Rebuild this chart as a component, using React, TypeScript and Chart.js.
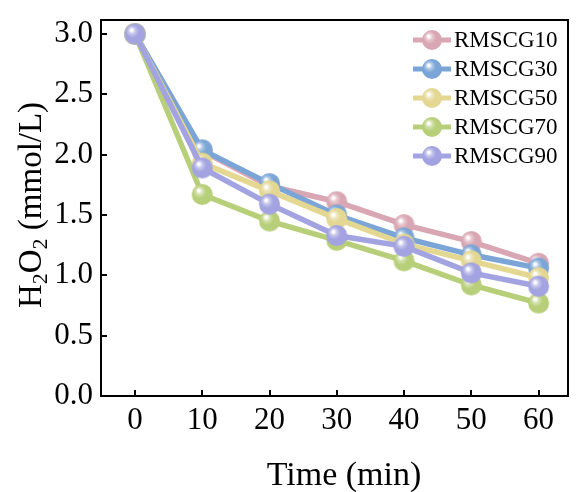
import React, { useEffect, useRef } from 'react';
import { Chart, registerables } from 'chart.js';

Chart.register(...registerables);

const times = [0, 10, 20, 30, 40, 50, 60];
const seriesNames = ['RMSCG10', 'RMSCG30', 'RMSCG50', 'RMSCG70', 'RMSCG90'];
const rmscg10 = [3.0, 2.03, 1.74, 1.61, 1.42, 1.28, 1.1];
const rmscg30 = [3.0, 2.04, 1.76, 1.5, 1.31, 1.17, 1.06];
const rmscg50 = [3.0, 1.93, 1.7, 1.47, 1.26, 1.12, 0.98];
const rmscg70 = [3.0, 1.67, 1.45, 1.29, 1.12, 0.92, 0.77];
const rmscg90 = [3.0, 1.89, 1.59, 1.33, 1.24, 1.02, 0.91];
const seriesValues = [rmscg10, rmscg30, rmscg50, rmscg70, rmscg90];
const seriesColors = ['#D9A7B3', '#7BA5D6', '#E3D791', '#B8CF7A', '#A2A3E0'];
const xTickValues = [0, 10, 20, 30, 40, 50, 60];
const yTickValues = [0, 0.5, 1.0, 1.5, 2.0, 2.5, 3.0];

const FONT = "'Liberation Serif', 'Times New Roman', serif";

function hexToRgb(hex: string) {
  const n = parseInt(hex.slice(1), 16);
  return [(n >> 16) & 255, (n >> 8) & 255, n & 255];
}
function mix(hex: string, t: number) {
  const [r, g, b] = hexToRgb(hex);
  const f = (c: number) => Math.round(c + (255 - c) * t);
  return `rgb(${f(r)},${f(g)},${f(b)})`;
}

function makeSphere(color: string, r: number) {
  const size = Math.ceil(r * 2 + 2);
  const c = document.createElement('canvas');
  c.width = size;
  c.height = size;
  const ctx = c.getContext('2d')!;
  const cx = size / 2;
  const cy = size / 2;
  const g = ctx.createRadialGradient(cx - r * 0.35, cy - r * 0.4, 0, cx - r * 0.15, cy - r * 0.15, r * 1.05);
  g.addColorStop(0, '#ffffff');
  g.addColorStop(0.1, '#ffffff');
  g.addColorStop(0.3, mix(color, 0.4));
  g.addColorStop(0.6, color);
  g.addColorStop(1, color);
  ctx.beginPath();
  ctx.arc(cx, cy, r, 0, Math.PI * 2);
  ctx.fillStyle = g;
  ctx.fill();
  return c;
}

export default function App() {
  const ref = useRef<HTMLCanvasElement>(null);

  useEffect(() => {
    const canvas = ref.current!;
    const spheres = seriesColors.map((c) => makeSphere(c, 10.5));
    const legendSpheres = seriesColors.map((c) => makeSphere(c, 10));

    const datasets = seriesNames.map((name, i) => ({
      label: name,
      data: times.map((t, j) => ({ x: t, y: seriesValues[i][j] })),
      borderColor: seriesColors[i],
      backgroundColor: seriesColors[i],
      borderWidth: 5.5,
      pointStyle: spheres[i] as any,
      pointRadius: 10.5,
      order: seriesNames.length - i,
      tension: 0,
    }));

    const decor = {
      id: 'decor',
      afterDraw(chart: any) {
        const ctx = chart.ctx as CanvasRenderingContext2D;
        const a = chart.chartArea;
        const xs = chart.scales.x;
        const ys = chart.scales.y;
        ctx.save();
        // frame
        ctx.strokeStyle = '#000';
        ctx.lineWidth = 2;
        ctx.strokeRect(a.left, a.top, a.right - a.left, a.bottom - a.top);
        // inward ticks
        ctx.lineWidth = 2;
        ctx.beginPath();
        xTickValues.forEach((v) => {
          const px = Math.round(xs.getPixelForValue(v));
          ctx.moveTo(px, a.bottom);
          ctx.lineTo(px, a.bottom - 6);
        });
        yTickValues.forEach((v) => {
          const py = Math.round(ys.getPixelForValue(v));
          ctx.moveTo(a.left, py);
          ctx.lineTo(a.left + 6, py);
        });
        ctx.stroke();

        // legend
        const lx0 = 413;
        const lx1 = 451;
        const ly0 = 40;
        const dy = 29;
        ctx.font = `23px ${FONT}`;
        ctx.textBaseline = 'middle';
        ctx.textAlign = 'left';
        seriesNames.forEach((name, i) => {
          const y = ly0 + i * dy;
          ctx.strokeStyle = seriesColors[i];
          ctx.lineWidth = 5;
          ctx.beginPath();
          ctx.moveTo(lx0, y);
          ctx.lineTo(lx1, y);
          ctx.stroke();
          const s = legendSpheres[i];
          ctx.drawImage(s, (lx0 + lx1) / 2 - s.width / 2, y - s.height / 2);
          ctx.fillStyle = '#000';
          ctx.fillText(name, 454, y + 1);
        });

        // x title
        ctx.fillStyle = '#000';
        ctx.font = `34px ${FONT}`;
        ctx.textAlign = 'center';
        ctx.textBaseline = 'alphabetic';
        ctx.fillText('Time (min)', 344, 485);

        // y title with subscripts
        const big = `33px ${FONT}`;
        const small = `22px ${FONT}`;
        const parts: [string, boolean][] = [
          ['H', false],
          ['2', true],
          ['O', false],
          ['2', true],
          [' (mmol/L)', false],
        ];
        let total = 0;
        parts.forEach(([t, sub]) => {
          ctx.font = sub ? small : big;
          total += ctx.measureText(t).width;
        });
        ctx.translate(41, 205);
        ctx.rotate(-Math.PI / 2);
        ctx.textAlign = 'left';
        let x = -total / 2;
        parts.forEach(([t, sub]) => {
          ctx.font = sub ? small : big;
          ctx.fillText(t, x, sub ? 6 : 0);
          x += ctx.measureText(t).width;
        });
        ctx.restore();
      },
    };

    const chart = new Chart(canvas, {
      type: 'line',
      data: { datasets: datasets as any },
      options: {
        animation: false,
        responsive: false,
        layout: { padding: { left: 0, top: 20, right: 6, bottom: 0 } },
        plugins: { legend: { display: false }, tooltip: { enabled: false } },
        scales: {
          x: {
            type: 'linear',
            min: -5.05,
            max: 64.37,
            grid: { display: false, drawTicks: false },
            border: { display: false },
            afterBuildTicks: (s: any) => {
              s.ticks = xTickValues.map((v) => ({ value: v }));
            },
            afterFit: (s: any) => {
              s.height = 96;
            },
            ticks: {
              color: '#000',
              font: { family: FONT, size: 31 },
              padding: 6,
              callback: (v: any) => String(v),
            },
          },
          y: {
            type: 'linear',
            min: 0,
            max: 3.116,
            grid: { display: false, drawTicks: false },
            border: { display: false },
            afterBuildTicks: (s: any) => {
              s.ticks = yTickValues.map((v) => ({ value: v }));
            },
            afterFit: (s: any) => {
              s.width = 101;
            },
            ticks: {
              color: '#000',
              font: { family: FONT, size: 31, lineHeight: 0.6 },
              padding: 8,
              callback: (v: any) => Number(v).toFixed(1),
            },
          },
        },
      },
      plugins: [decor],
    });
    return () => chart.destroy();
  }, []);

  return (
    <div style={{ position: 'fixed', left: 0, top: 0, width: 584, height: 492, background: '#fff' }}>
      <canvas ref={ref} width={584} height={492} style={{ display: 'block' }} />
    </div>
  );
}
